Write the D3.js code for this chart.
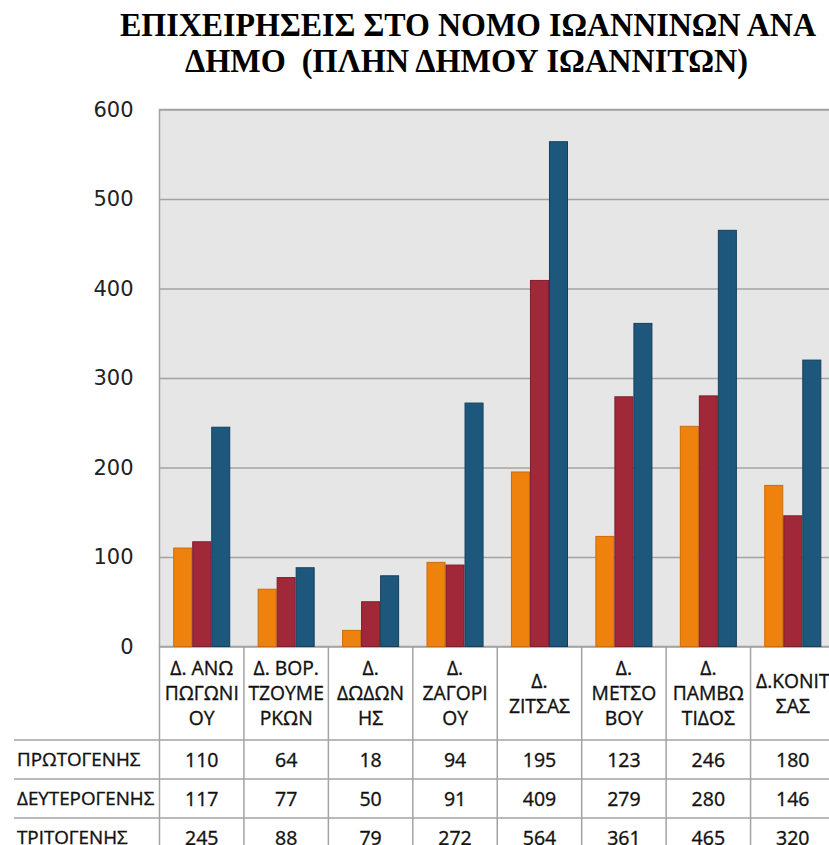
<!DOCTYPE html>
<html>
<head>
<meta charset="utf-8">
<script src="https://cdn.jsdelivr.net/npm/d3@7"></script>
<style>
  body { margin: 0; background: #fff; }
  svg { display: block; }
</style>
</head>
<body>
<div id="chart"></div>
<script>
var vWidth = 829;
var vHeight = 845;

// Data
var categoryLines = [
    ["Δ. ΑΝΩ", "ΠΩΓΩΝΙ", "ΟΥ"],
    ["Δ. ΒΟΡ.", "ΤΖΟΥΜΕ", "ΡΚΩΝ"],
    ["Δ.", "ΔΩΔΩΝ", "ΗΣ"],
    ["Δ.", "ΖΑΓΟΡΙ", "ΟΥ"],
    ["Δ.", "ΖΙΤΣΑΣ"],
    ["Δ.", "ΜΕΤΣΟ", "ΒΟΥ"],
    ["Δ.", "ΠΑΜΒΩ", "ΤΙΔΟΣ"],
    ["Δ.ΚΟΝΙΤ", "ΣΑΣ"]
];
var categories = categoryLines.map(l => l.join(" "));
var seriesNames = ["ΠΡΩΤΟΓΕΝΗΣ", "ΔΕΥΤΕΡΟΓΕΝΗΣ", "ΤΡΙΤΟΓΕΝΗΣ"];
var primary   = [110, 64, 18, 94, 195, 123, 246, 180];
var secondary = [117, 77, 50, 91, 409, 279, 280, 146];
var tertiary  = [245, 88, 79, 272, 564, 361, 465, 320];
var yTicks = [0, 100, 200, 300, 400, 500, 600];
var titleLines = ["ΕΠΙΧΕΙΡΗΣΕΙΣ ΣΤΟ ΝΟΜΟ ΙΩΑΝΝΙΝΩΝ ΑΝΑ", "ΔΗΜΟ  (ΠΛΗΝ ΔΗΜΟΥ ΙΩΑΝΝΙΤΩΝ)"];

var seriesValues = [primary, secondary, tertiary];
var fills = ["#EF820C", "#A02838", "#1D587C"];
var strokes = ["#C86C0C", "#7C1E2C", "#143F5C"];

// plot area
var pLeft = 159.5, pRight = 835, pTop = 109.5, pBottom = 646.5;
var gridColor = "#A3A3A3";

var svg = d3.select("#chart")
    .append("svg")
    .attr("width", vWidth)
    .attr("height", vHeight);

var x0 = d3.scaleBand().domain(categories).range([pLeft, pRight]).padding(0);
var x1 = d3.scaleBand().domain(seriesNames).range([0, x0.bandwidth()])
    .paddingInner(0).paddingOuter(0.72);
var y = d3.scaleLinear().domain([0, 600]).range([pBottom, pTop]);

// title
svg.append("g").selectAll("text")
    .data(titleLines)
    .enter().append("text")
    .attr("x", (d, i) => i === 0 ? 120 : 185)
    .attr("y", (d, i) => i === 0 ? 36 : 72)
    .attr("textLength", (d, i) => i === 0 ? 696 : 563)
    .attr("lengthAdjust", "spacingAndGlyphs")
    .attr("font-family", "'Liberation Serif', 'Times New Roman', serif")
    .attr("font-weight", "bold")
    .attr("font-size", 33)
    .attr("fill", "#000")
    .style("white-space", "pre")
    .text(d => d);

// plot background
svg.append("rect")
    .attr("x", pLeft).attr("y", pTop)
    .attr("width", pRight - pLeft).attr("height", pBottom - pTop)
    .attr("fill", "#E6E6E6")
    .attr("stroke", gridColor)
    .attr("stroke-width", 1.5);

// gridlines + y labels
var yAxis = d3.axisLeft(y).tickValues(yTicks).tickSize(-(pRight - pLeft)).tickPadding(26);
var ga = svg.append("g")
    .attr("transform", "translate(" + pLeft + ",0)")
    .call(yAxis);
ga.select(".domain").remove();
ga.selectAll(".tick line").attr("stroke", gridColor).attr("stroke-width", 1.5);
ga.selectAll(".tick text")
    .attr("font-family", "'DejaVu Sans', sans-serif")
    .attr("font-size", 21)
    .attr("fill", "#222");

// bars
var groups = svg.append("g").selectAll("g")
    .data(categories)
    .enter().append("g")
    .attr("transform", d => "translate(" + x0(d) + ",0)");

groups.selectAll("rect")
    .data((d, i) => seriesNames.map((s, j) => ({ s: s, j: j, v: seriesValues[j][i] })))
    .enter().append("rect")
    .attr("x", d => x1(d.s) + 0.5)
    .attr("y", d => y(d.v))
    .attr("width", x1.bandwidth() - 1)
    .attr("height", d => y(0) - y(d.v))
    .attr("fill", d => fills[d.j])
    .attr("stroke", d => strokes[d.j])
    .attr("stroke-width", 1);

// data table
var headerBottom = 740;
var rowH = 39;
var table = svg.append("g");
var fontTable = "'Open Sans', sans-serif";

// vertical lines
table.selectAll("line.v")
    .data(categories.concat(["end"]))
    .enter().append("line")
    .attr("class", "v")
    .attr("x1", (d, i) => pLeft + i * x0.step())
    .attr("x2", (d, i) => pLeft + i * x0.step())
    .attr("y1", pBottom)
    .attr("y2", vHeight)
    .attr("stroke", gridColor)
    .attr("stroke-width", 1.5);

// horizontal lines
table.selectAll("line.h")
    .data(seriesNames)
    .enter().append("line")
    .attr("class", "h")
    .attr("x1", 14)
    .attr("x2", pRight)
    .attr("y1", (d, i) => headerBottom + i * rowH)
    .attr("y2", (d, i) => headerBottom + i * rowH)
    .attr("stroke", gridColor)
    .attr("stroke-width", 1.5);

// header labels
var heads = table.selectAll("text.head")
    .data(categoryLines)
    .enter().append("text")
    .attr("class", "head")
    .attr("text-anchor", "middle")
    .attr("font-family", fontTable)
    .attr("font-size", 19.3)
    .attr("fill", "#111")
    .attr("stroke", "#111")
    .attr("stroke-width", 0.35)
    .attr("transform", (d, i) => "translate(" + (x0(categories[i]) + x0.bandwidth() / 2) + "," +
        ((pBottom + headerBottom) / 2 - (d.length - 1) * 12.5) + ")");

heads.selectAll("tspan")
    .data(d => d)
    .enter().append("tspan")
    .attr("x", 0)
    .attr("y", (d, i) => i * 25)
    .attr("dy", "0.36em")
    .text(d => d);

// row labels and values
var rows = table.selectAll("g.row")
    .data(seriesNames)
    .enter().append("g")
    .attr("class", "row")
    .attr("transform", (d, i) => "translate(0," + (headerBottom + i * rowH + rowH / 2) + ")");

rows.append("text")
    .attr("x", 17)
    .attr("dy", "0.36em")
    .attr("font-family", fontTable)
    .attr("font-size", 18.8)
    .attr("fill", "#111")
    .attr("stroke", "#111")
    .attr("stroke-width", 0.35)
    .text(d => d);

rows.selectAll("text.val")
    .data((d, i) => seriesValues[i].map((v, k) => ({ v: v, c: categories[k] })))
    .enter().append("text")
    .attr("class", "val")
    .attr("x", d => x0(d.c) + x0.bandwidth() / 2)
    .attr("dy", "0.36em")
    .attr("text-anchor", "middle")
    .attr("font-family", fontTable)
    .attr("font-size", 19.5)
    .attr("fill", "#111")
    .attr("stroke", "#111")
    .attr("stroke-width", 0.35)
    .text(d => d.v);
</script>
</body>
</html>
